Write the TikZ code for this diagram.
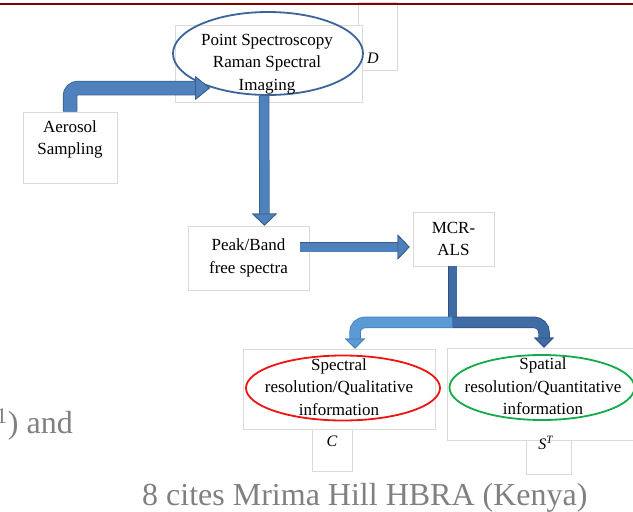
\documentclass[tikz,border=0pt]{standalone}
\usepackage{fontspec}
\setmainfont{Liberation Serif}
\usetikzlibrary{positioning, arrows.meta, calc, shapes.geometric}

\definecolor{boxgray}{RGB}{218,218,218}
\definecolor{arrowfill}{RGB}{79,129,189}
\definecolor{arrowedge}{RGB}{56,93,138}
\definecolor{lightfill}{RGB}{91,155,213}
\definecolor{lightedge}{RGB}{70,125,180}
\definecolor{darkfill}{RGB}{64,108,166}
\definecolor{darkedge}{RGB}{46,80,128}
\definecolor{ovalblue}{RGB}{60,100,155}
\definecolor{ovalred}{RGB}{238,20,20}
\definecolor{ovalgreen}{RGB}{20,170,75}
\definecolor{pagegray}{RGB}{128,128,128}
\definecolor{pagered}{RGB}{128,0,0}

\tikzset{
  textbox/.style={draw=boxgray, fill=white, line width=0.8pt, inner sep=0pt},
  oval/.style={ellipse, line width=1.8pt, inner sep=0pt},
  boxtext/.style={align=center, inner sep=0pt, font=\fontsize{17}{22.5}\selectfont},
  marktext/.style={inner sep=0pt, font=\fontsize{16}{18}\selectfont},
  pagetext/.style={text=pagegray, inner sep=0pt, font=\fontsize{32}{36}\selectfont},
  fatarrow/.style n args={6}{
    preaction={draw=#6, line width=#2,
      -{Triangle[length=#3, width=#4, line width=0.8pt, color=#6, fill=#6]}},
    draw=#5, line width=#1,
    -{Triangle[length=#3, width=#4, line width=0.8pt, color=#6, fill=#5]}},
  bigarrow/.style={fatarrow={13pt}{14.5pt}{15pt}{24pt}{arrowfill}{arrowedge}},
  midarrow/.style={fatarrow={9pt}{10.5pt}{12pt}{25pt}{arrowfill}{arrowedge}},
  lightarrow/.style={fatarrow={10pt}{11.5pt}{10pt}{20pt}{lightfill}{lightedge}},
  darkarrow/.style={fatarrow={10pt}{11.5pt}{10pt}{20pt}{darkfill}{darkedge}},
  darkshaft/.style={draw=darkfill, line width=8pt,
    preaction={draw=darkedge, line width=9.5pt}}
}

\begin{document}
\begin{tikzpicture}[x=1pt, y=-1pt]
  \useasboundingbox (0,0) rectangle (633,512);

  % top group
  \node[textbox, minimum width=39pt, minimum height=68pt, anchor=north west] (dbox) at (358,2) {};
  \node[textbox, minimum width=187pt, minimum height=77pt] (raman) at (268.5,63.5) {};
  \node[oval, draw=ovalblue, minimum width=190pt, minimum height=83pt] (ramanoval) at (268,53.5) {};
  \node[boxtext] (ramantext) at (267,64) {Point Spectroscopy\\Raman Spectral\\Imaging};
  \node[marktext] (dlabel) at (373,58) {\textit{D}};

  \draw[pagered, line width=2.2pt] (0,4) -- (633,4);

  % left input
  \node[textbox, minimum width=94pt, minimum height=71pt] (aerosol) at (70,147.5) {};
  \node[boxtext] (aerosoltext) at (70,139.5) {Aerosol\\Sampling};

  % middle row
  \node[textbox, boxtext, minimum width=121pt, minimum height=64pt] (peak) at (248.5,258) {Peak/Band\\free spectra};
  \node[textbox, boxtext, minimum width=81pt, minimum height=54pt] (mcr) at (453.5,239) {MCR-\\ALS};

  % bottom left
  \node[textbox, minimum width=40pt, minimum height=60pt, anchor=south west] (ctab) at (312,472) {};
  \node[textbox, minimum width=192pt, minimum height=80pt] (spectral) at (339,389) {};
  \node[oval, draw=ovalred, minimum width=194pt, minimum height=65pt] (spectraloval) at (343,388) {};
  \node[boxtext] (spectraltext) at (339,387) {Spectral\\resolution/Qualitative\\information};
  \node[marktext] (clabel) at (332,441) {\textit{C}};

  % bottom right
  \node[textbox, minimum width=45pt, minimum height=60pt, anchor=south west] (stab) at (526,475) {};
  \node[textbox, minimum width=192pt, minimum height=92pt] (spatial) at (543,394) {};
  \node[oval, draw=ovalgreen, minimum width=185pt, minimum height=65pt] (spatialoval) at (542,387.5) {};
  \node[boxtext] (spatialtext) at (543,386.5) {Spatial\\resolution/Quantitative\\information};
  \node[marktext] (slabel) at (546,443) {\textit{S}\textsuperscript{\textit{T}}};

  % arrows
  \coordinate (ramanin) at (210,88);
  \draw[bigarrow, rounded corners=8pt] (aerosol.north) |- (ramanin);
  \draw[midarrow] ([xshift=-4pt]ramanoval.south) -- ([xshift=16pt]peak.north);
  \draw[midarrow] ([xshift=-9pt, yshift=11pt]peak.east) -- ([xshift=-3pt, yshift=-8pt]mcr.west);

  \coordinate (split) at ([xshift=-1pt, yshift=-56pt]mcr.south);
  \draw[darkshaft] (mcr.south -| split) -- (split);
  \draw[lightarrow, rounded corners=10pt] (split) -| ([xshift=16pt]spectral.north);
  \draw[darkarrow, rounded corners=10pt] (split) -| ([xshift=1pt]spatial.north);

  % surrounding page text
  \node[pagetext, anchor=base east] (andtext) at (73,433) {\textsuperscript{1}) and};
  \node[pagetext, anchor=base west] (caption) at (142,505) {8 cites Mrima Hill HBRA (Kenya)};
\end{tikzpicture}
\end{document}
